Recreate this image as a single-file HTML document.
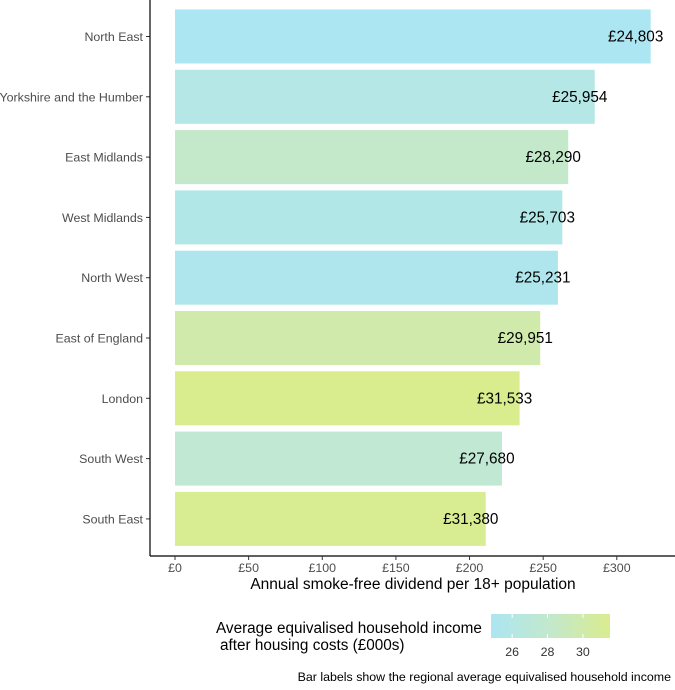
<!DOCTYPE html>
<html><head><meta charset="utf-8"><style>
body{margin:0;background:#fff;font-family:"Liberation Sans",sans-serif;}
</style></head><body>
<svg id="c" width="675" height="685" xmlns="http://www.w3.org/2000/svg">
<defs><linearGradient id="lg" x1="0" x2="1" y1="0" y2="0">
<stop offset="0" stop-color="#ace6f2"/><stop offset="0.5" stop-color="#c3e8cc"/><stop offset="1" stop-color="#d9ec8e"/></linearGradient></defs>
</svg>
<script>
const regions=["North East","Yorkshire and the Humber","East Midlands","West Midlands","North West","East of England","London","South West","South East"];
const dividend=[323,285,267,263,260,248,234,222,211];
const income=[24.803,25.954,28.290,25.703,25.231,29.951,31.533,27.680,31.380];
const incomeLabels=["£24,803","£25,954","£28,290","£25,703","£25,231","£29,951","£31,533","£27,680","£31,380"];
const xTicks=[0,50,100,150,200,250,300];
const legendTicks=[26,28,30];
const svg=document.getElementById('c');const NS="http://www.w3.org/2000/svg";
function mk(t,a,p){const e=document.createElementNS(NS,t);for(const k in a)e.setAttribute(k,a[k]);(p||svg).appendChild(e);return e;}
const x=v=>175+v*1.4727;
const band=60.3,y0=6.5;
const y=i=>y0+i*band;
const cmin=Math.min(...income),cmax=Math.max(...income);
function col(v){const t=(v-cmin)/(cmax-cmin);const a=[172,230,242],m=[195,232,204],b=[217,236,142];
let c;if(t<0.5){const s=t*2;c=a.map((q,i)=>q+(m[i]-q)*s);}else{const s=(t-0.5)*2;c=m.map((q,i)=>q+(b[i]-q)*s);}
return `rgb(${c.map(Math.round).join(',')})`;}
regions.forEach((r,i)=>{
const b=mk('rect',{x:x(0),y:y(i)+3,width:x(dividend[i])-x(0),height:54,fill:col(income[i])});


const l=mk('text',{x:x(dividend[i])-15,y:y(i)+35,'text-anchor':'middle','font-size':15.3,fill:'#000'});l.textContent=incomeLabels[i];


const t=mk('text',{x:143,y:y(i)+34.5,'text-anchor':'end','font-size':12.4,fill:'#4d4d4d'});t.textContent=r;


mk('line',{x1:146,x2:150,y1:y(i)+30,y2:y(i)+30,stroke:'#333'});
});
mk('line',{x1:150,x2:150,y1:0,y2:556,stroke:'#000','stroke-width':1.2});
mk('line',{x1:150,x2:675,y1:556,y2:556,stroke:'#000','stroke-width':1.2});
xTicks.forEach(v=>{mk('line',{x1:x(v),x2:x(v),y1:556,y2:560,stroke:'#333'});
const t=mk('text',{x:x(v),y:572,'text-anchor':'middle','font-size':12.4,fill:'#4d4d4d'});t.textContent='£'+v;

});
const xt=mk('text',{x:413,y:589,'text-anchor':'middle','font-size':15.5,fill:'#000'});xt.textContent='Annual smoke-free dividend per 18+ population';


const lx=v=>491+(v-cmin)/(cmax-cmin)*119;
const lb=mk('rect',{x:491,y:614,width:119,height:24,fill:'url(#lg)'});


legendTicks.forEach(v=>{mk('line',{x1:lx(v),x2:lx(v),y1:614,y2:618,stroke:'#fff'});mk('line',{x1:lx(v),x2:lx(v),y1:634,y2:638,stroke:'#fff'});
const t=mk('text',{x:lx(v),y:656,'text-anchor':'middle','font-size':12.4,fill:'#333'});t.textContent=v;

});
const lt=mk('text',{x:216,y:633,'font-size':15.3,fill:'#000'});lt.textContent='Average equivalised household income';


const lt2=mk('text',{x:220,y:650,'font-size':15.3,fill:'#000'});lt2.textContent='after housing costs (£000s)';


const cp=mk('text',{x:671,y:681,'text-anchor':'end','font-size':12.4,fill:'#000'});cp.textContent='Bar labels show the regional average equivalised household income';


</script>
</body></html>
